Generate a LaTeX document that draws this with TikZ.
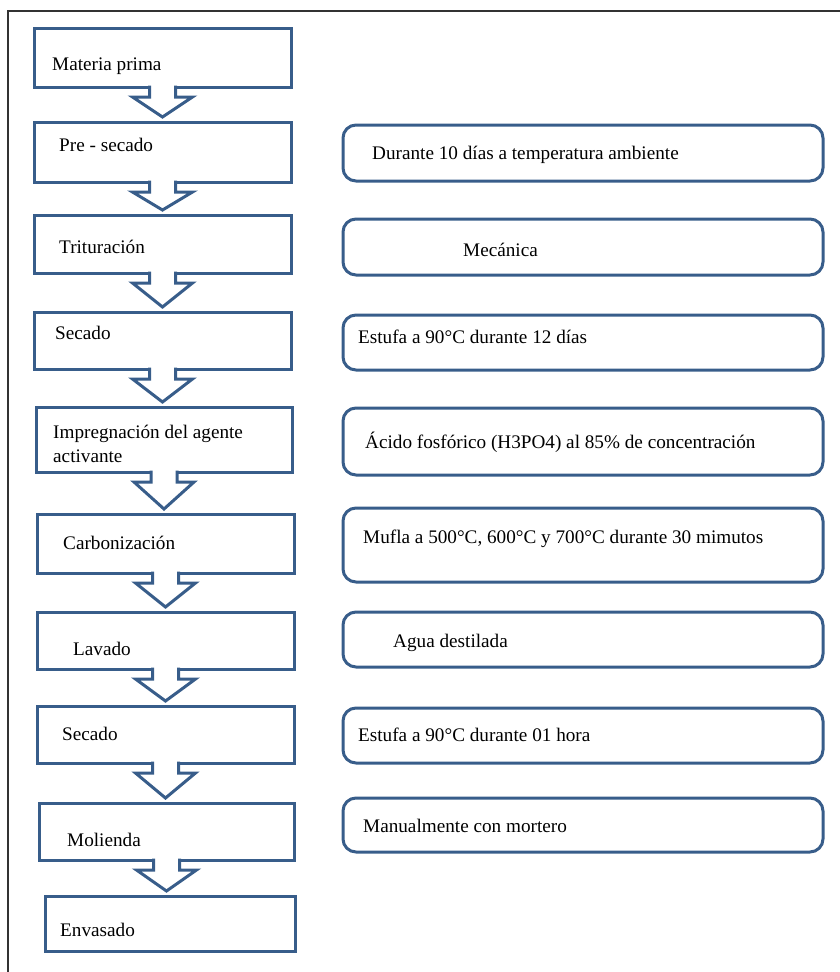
\documentclass[tikz,border=0pt]{standalone}
\usepackage{fontspec}
\setmainfont{Liberation Serif}
\usetikzlibrary{calc}
\definecolor{azul}{RGB}{56,93,138}
\tikzset{
  paso/.style={draw=azul, line width=3pt, rectangle, inner sep=0pt, outer sep=0pt, minimum width=257pt},
  nota/.style={draw=azul, line width=3pt, rectangle, rounded corners=13pt, inner sep=0pt, outer sep=0pt, minimum width=480pt},
  txt/.style={anchor=base west, inner sep=0pt, font=\fontsize{19.2}{24}\selectfont},
  flecha/.style={draw=azul, fill=white, line width=3pt}
}
\newcommand{\bajada}[2]{%
  \filldraw[flecha] ($(#1.south)+(-13,-1.5)$) -- ++(0,11.5) -- ++(-17,0)
    -- ($(#1.south |- #2.north)+(0,-5)$) -- ($(#1.south)+(30,10)$)
    -- ++(-17,0) -- ++(0,-11.5);}
\begin{document}
\begin{tikzpicture}[x=1pt,y=-1pt]
\useasboundingbox (0,0) rectangle (840,972);
% marco
\draw[line width=1.5pt, black!80] (8,975) -- (8,11) -- (843,11);
% left column
\node[paso, minimum height=59pt] (p1) at (162.5,57.5) {};
\node[paso, minimum height=60pt] (p2) at (162.5,152) {};
\node[paso, minimum height=58pt] (p3) at (162.5,244) {};
\node[paso, minimum height=57pt] (p4) at (162.5,340.5) {};
\node[paso, minimum height=65pt, minimum width=256pt] (p5) at (164,439.5) {};
\node[paso, minimum height=59pt] (p6) at (165.5,543.5) {};
\node[paso, minimum height=57pt] (p7) at (165.5,640.5) {};
\node[paso, minimum height=57pt] (p8) at (165.5,734.5) {};
\node[paso, minimum height=57pt, minimum width=255pt] (p9) at (166.5,831.5) {};
\node[paso, minimum height=55pt, minimum width=250pt] (p10) at (170,923.5) {};
% arrows
\bajada{p1}{p2}
\bajada{p2}{p3}
\bajada{p3}{p4}
\bajada{p4}{p5}
\bajada{p5}{p6}
\bajada{p6}{p7}
\bajada{p7}{p8}
\bajada{p8}{p9}
\bajada{p9}{p10}
% right column
\node[nota, minimum height=56pt] (n2) at (583,153) {};
\node[nota, minimum height=56pt] (n3) at (583,247) {};
\node[nota, minimum height=55pt] (n4) at (583,342.5) {};
\node[nota, minimum height=67pt] (n5) at (583,441.5) {};
\node[nota, minimum height=74pt] (n6) at (583,545) {};
\node[nota, minimum height=55pt] (n7) at (583,639.5) {};
\node[nota, minimum height=55pt] (n8) at (583,735.5) {};
\node[nota, minimum height=54pt] (n9) at (583,825) {};
% texts
\node[txt] (t1) at (52,70) {Materia prima};
\node[txt] (t2) at (59,151) {Pre - secado};
\node[txt] (t3) at (59,253) {Trituración};
\node[txt] (t4) at (55,339) {Secado};
\node[txt] (t5) at (53,438) {Impregnación del agente};
\node[txt] (t5b) at (53,462) {activante};
\node[txt] (t6) at (63,549) {Carbonización};
\node[txt] (t7) at (73,655) {Lavado};
\node[txt] (t8) at (62,740) {Secado};
\node[txt] (t9) at (67,846) {Molienda};
\node[txt] (t10) at (60,936) {Envasado};
\node[txt] (d2) at (372,159) {Durante 10 días a temperatura ambiente};
\node[txt] (d3) at (463,256) {Mecánica};
\node[txt] (d4) at (358,343) {Estufa a 90°C durante 12 días};
\node[txt] (d5) at (365,448) {Ácido fosfórico (H3PO4) al 85\% de concentración};
\node[txt] (d6) at (363,543) {Mufla a 500°C, 600°C y 700°C durante 30 mimutos};
\node[txt] (d7) at (393,647) {Agua destilada};
\node[txt] (d8) at (358,741) {Estufa a 90°C durante 01 hora};
\node[txt] (d9) at (363,832) {Manualmente con mortero};
\end{tikzpicture}
\end{document}
